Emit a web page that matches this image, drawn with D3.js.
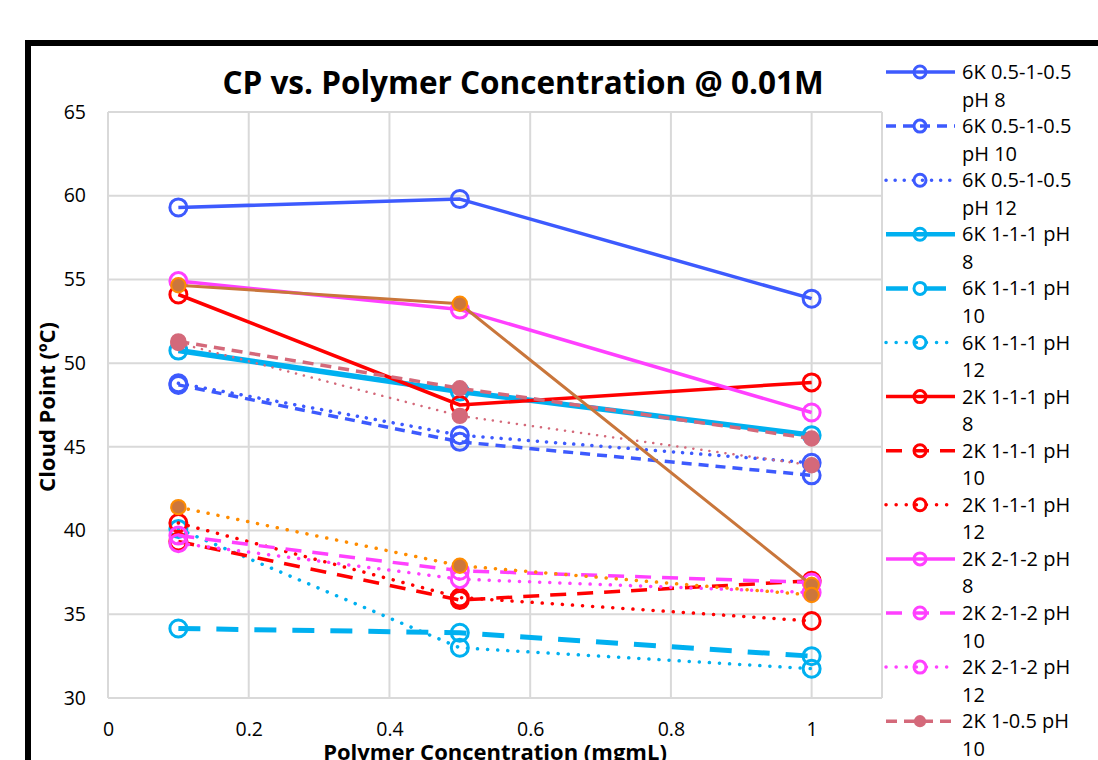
<!DOCTYPE html>
<html>
<head>
<meta charset="utf-8">
<script src="https://cdn.jsdelivr.net/npm/d3@7"></script>
<style>
  html, body { margin: 0; padding: 0; background: #fff; overflow: hidden; }
  svg { display: block; font-family: "Open Sans", Lato, sans-serif; font-variant-ligatures: none; }
</style>
</head>
<body>
<svg id="chart" width="1098" height="760"></svg>
<script>
// Polymer concentration (mg/mL) at which each cloud point was measured
const concentrations = [0.1, 0.5, 1];

// Series names, in legend order
const seriesNames = [
  "6K 0.5-1-0.5 pH 8",
  "6K 0.5-1-0.5 pH 10",
  "6K 0.5-1-0.5 pH 12",
  "6K 1-1-1 pH 8",
  "6K 1-1-1 pH 10",
  "6K 1-1-1 pH 12",
  "2K 1-1-1 pH 8",
  "2K 1-1-1 pH 10",
  "2K 1-1-1 pH 12",
  "2K 2-1-2 pH 8",
  "2K 2-1-2 pH 10",
  "2K 2-1-2 pH 12",
  "2K 1-0.5 pH 10",
  "2K 1-0.5 pH 12",
  "2K 0.5-1-0.5 pH 8",
  "2K 0.5-1-0.5 pH 12"
];

// Cloud point (°C) per series, one value per concentration
const cloudPoints = [
  [59.3, 59.8, 53.85],
  [48.7, 45.3, 43.3],
  [48.8, 45.7, 44.05],
  [50.75, 48.3, 45.7],
  [34.15, 33.9, 32.5],
  [40.1, 33.0, 31.75],
  [54.1, 47.5, 48.85],
  [39.35, 35.85, 37.0],
  [40.45, 36.0, 34.6],
  [54.9, 53.2, 47.05],
  [39.7, 37.6, 36.9],
  [39.25, 37.1, 36.3],
  [51.3, 48.5, 45.5],
  [51.2, 46.85, 43.9],
  [54.65, 53.55, 36.75],
  [41.4, 37.9, 36.15]
];

// Axis ticks
const xTicks = [0, 0.2, 0.4, 0.6, 0.8, 1];
const yTicks = [30, 35, 40, 45, 50, 55, 60, 65];

// Line and marker styling per series
const seriesStyles = [
  { color: "#3D5AFE", width: 3.5, dash: null,      marker: "ring" },
  { color: "#3D5AFE", width: 3.5, dash: "10,7",    marker: "ring" },
  { color: "#3D5AFE", width: 3.5, dash: "0.1,9",   marker: "ring" },
  { color: "#00B0F0", width: 5.5, dash: null,      marker: "ring" },
  { color: "#00B0F0", width: 5,   dash: "22,16",   marker: "ring" },
  { color: "#00B0F0", width: 3.5, dash: "0.1,10",  marker: "ring" },
  { color: "#FF0000", width: 3.5, dash: null,      marker: "ring" },
  { color: "#FF0000", width: 3.5, dash: "16,11",   marker: "ring" },
  { color: "#FF0000", width: 3.5, dash: "0.1,10",  marker: "ring" },
  { color: "#FF40FF", width: 3.5, dash: null,      marker: "ring" },
  { color: "#FF40FF", width: 3.5, dash: "16,11",   marker: "ring" },
  { color: "#FF40FF", width: 3.5, dash: "0.1,10",  marker: "ring" },
  { color: "#D4697A", width: 3.5, dash: "11,7",    marker: "dot", fill: "#D4697A", edge: "#D4697A" },
  { color: "#D4697A", width: 2.5, dash: "0.1,8",   marker: "dot", fill: "#D4697A", edge: "#D4697A" },
  { color: "#C9763B", width: 3,   dash: null,      marker: "dot", fill: "#CC763C", edge: "#FF8C00" },
  { color: "#FF8C00", width: 3.5, dash: "0.1,10",  marker: "dot", fill: "#CC763C", edge: "#FF8C00" }
];

const svg = d3.select("#chart");

// Chart frame
svg.append("rect")
  .attr("x", 28).attr("y", 43)
  .attr("width", 1200).attr("height", 900)
  .attr("fill", "#fff")
  .attr("stroke", "#000").attr("stroke-width", 6);

const plot = { left: 108, top: 112, right: 882, bottom: 698 };

const x = d3.scaleLinear().domain([0, 1.1]).range([plot.left, plot.right]);
const y = d3.scaleLinear().domain([30, 65]).range([plot.bottom, plot.top]);

// Gridlines
const grid = svg.append("g").attr("stroke", "#D9D9D9").attr("stroke-width", 2);
grid.selectAll(".gx").data(xTicks).join("line")
  .attr("x1", d => x(d)).attr("x2", d => x(d))
  .attr("y1", plot.top).attr("y2", plot.bottom);
grid.selectAll(".gy").data(yTicks).join("line")
  .attr("x1", plot.left).attr("x2", plot.right)
  .attr("y1", d => y(d)).attr("y2", d => y(d));
grid.append("line")
  .attr("x1", plot.right).attr("x2", plot.right)
  .attr("y1", plot.top).attr("y2", plot.bottom);

// Axes (labels only; gridlines form the frame)
const xAxis = d3.axisBottom(x).tickValues(xTicks).tickSize(0).tickPadding(24)
  .tickFormat(d => String(d));
const yAxis = d3.axisLeft(y).tickValues(yTicks).tickSize(0).tickPadding(22)
  .tickFormat(d => String(d));

const gx = svg.append("g").attr("transform", `translate(0,${plot.bottom})`).call(xAxis);
const gy = svg.append("g").attr("transform", `translate(${plot.left},0)`).call(yAxis);
[gx, gy].forEach(g => {
  g.select(".domain").remove();
  g.selectAll("text").attr("font-size", 19.5).attr("fill", "#000")
    .attr("font-family", "'Open Sans', sans-serif");
});

// Titles
svg.append("text")
  .attr("x", 523).attr("y", 94)
  .attr("text-anchor", "middle")
  .attr("font-size", 31.5).attr("font-weight", "bold")
  .text("CP vs. Polymer Concentration @ 0.01M");

svg.append("text")
  .attr("x", 495).attr("y", 760)
  .attr("text-anchor", "middle")
  .attr("font-size", 22).attr("font-weight", "bold")
  .text("Polymer Concentration (mgmL)");

svg.append("text")
  .attr("transform", `translate(55,${(plot.top + plot.bottom) / 2 + 2}) rotate(-90)`)
  .attr("text-anchor", "middle")
  .attr("font-size", 22).attr("font-weight", "bold")
  .text("Cloud Point (ºC)");

// Series lines and markers
const line = d3.line().x(d => x(d[0])).y(d => y(d[1]));

function drawMarker(g, cx, cy, st, r) {
  if (st.marker === "ring") {
    g.append("circle").attr("cx", cx).attr("cy", cy).attr("r", r)
      .attr("fill", "none").attr("stroke", st.color).attr("stroke-width", 3);
  } else {
    g.append("circle").attr("cx", cx).attr("cy", cy).attr("r", r * 0.85)
      .attr("fill", st.fill).attr("stroke", st.edge).attr("stroke-width", 2);
  }
}

const seriesLayer = svg.append("g");
cloudPoints.forEach((vals, i) => {
  const st = seriesStyles[i];
  const pts = concentrations.map((c, j) => [c, vals[j]]);
  const g = seriesLayer.append("g");
  g.append("path")
    .attr("d", line(pts))
    .attr("fill", "none")
    .attr("stroke", st.color)
    .attr("stroke-width", st.width)
    .attr("stroke-dasharray", st.dash)
    .attr("stroke-linecap", st.dash && st.dash.startsWith("0.1") ? "round" : "butt")
    .attr("stroke-linejoin", "round");
  pts.forEach(p => drawMarker(g, x(p[0]), y(p[1]), st, 8.5));
});

// Legend, with labels wrapped to the available width
const legend = svg.append("g");
const legendTop = 72, entryStep = 54.1, lineStep = 27.5, wrapWidth = 120;
seriesNames.forEach((name, i) => {
  const st = seriesStyles[i];
  const cy = legendTop + i * entryStep;
  const g = legend.append("g");
  g.append("line")
    .attr("x1", 886).attr("x2", 955).attr("y1", cy).attr("y2", cy)
    .attr("stroke", st.color)
    .attr("stroke-width", Math.min(st.width, 4.5))
    .attr("stroke-dasharray", st.dash)
    .attr("stroke-linecap", st.dash && st.dash.startsWith("0.1") ? "round" : "butt");
  drawMarker(g, 920, cy, st, 6);

  const text = g.append("text")
    .attr("x", 962).attr("y", cy)
    .attr("font-size", 20);
  const words = name.split(" ");
  let lines = [], current = [];
  const probe = text.append("tspan");
  words.forEach(w => {
    const trial = current.concat(w).join(" ");
    probe.text(trial);
    if (current.length && probe.node().getComputedTextLength() > wrapWidth) {
      lines.push(current.join(" "));
      current = [w];
    } else {
      current.push(w);
    }
  });
  lines.push(current.join(" "));
  probe.remove();
  lines.forEach((l, k) => {
    text.append("tspan").attr("x", 962).attr("dy", k === 0 ? "0.35em" : lineStep)
      .text(l);
  });
});
</script>
</body>
</html>
